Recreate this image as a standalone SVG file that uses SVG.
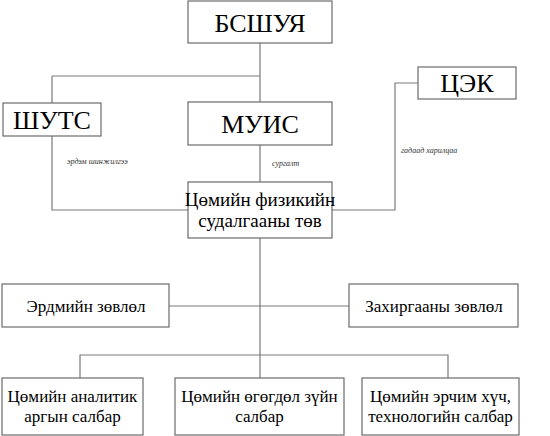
<svg xmlns="http://www.w3.org/2000/svg" width="550" height="436" viewBox="0 0 550 436">
<rect width="550" height="436" fill="#fff"/>
<g id="connectors" fill="none" stroke="#7a7a7a" stroke-width="1.2">
<path d="M260,43 V102 M52,76 H260 M52,76 V103"/>
<path d="M260,145 V182"/>
<path d="M52,136 V210 H188"/>
<path d="M418,83 H395 V210 H332"/>
<path d="M260,238 V378"/>
<path d="M169,306 H349"/>
<path d="M80,378 V355 H448 V378"/>
</g>
<g id="labels" fill="#333" font-size="8" font-style="italic" font-family="Times New Roman">
<text x="67" y="164">эрдэм шинжилгээ</text>
<text x="272" y="166">сургалт</text>
<text x="401" y="153">гадаад харилцаа</text>
</g>
<g id="nodes" text-anchor="middle" font-family="Times New Roman">
<g id="bsshuya"><rect fill="#fff" stroke="#6b6b6b" stroke-width="1.2" x="188" y="1" width="144" height="42"/><text font-size="26" x="260" y="32">БСШУЯ</text></g>
<g id="shuts"><rect fill="#fff" stroke="#6b6b6b" stroke-width="1.2" x="3" y="103" width="98" height="33"/><text font-size="26" x="52" y="129">ШУТС</text></g>
<g id="muis"><rect fill="#fff" stroke="#6b6b6b" stroke-width="1.2" x="188" y="102" width="144" height="43"/><text font-size="26" x="260" y="133">МУИС</text></g>
<g id="tsek"><rect fill="#fff" stroke="#6b6b6b" stroke-width="1.2" x="418" y="67" width="98" height="32"/><text font-size="26" x="467" y="92">ЦЭК</text></g>
<g id="center"><rect fill="#fff" stroke="#6b6b6b" stroke-width="1.2" x="188" y="182" width="144" height="56"/><text font-size="19" x="260" y="206">Цөмийн физикийн</text><text font-size="19" x="260" y="227">судалгааны төв</text></g>
<g id="erdem"><rect fill="#fff" stroke="#6b6b6b" stroke-width="1.2" x="2" y="284" width="167" height="43"/><text font-size="17" x="86" y="312">Эрдмийн зөвлөл</text></g>
<g id="zahirgaa"><rect fill="#fff" stroke="#6b6b6b" stroke-width="1.2" x="349" y="284" width="169" height="43"/><text font-size="17" x="434" y="312">Захиргааны зөвлөл</text></g>
<g id="analitik"><rect fill="#fff" stroke="#6b6b6b" stroke-width="1.2" x="2" y="378" width="141" height="57"/><text font-size="17" x="72.5" y="402">Цөмийн аналитик</text><text font-size="17" x="72.5" y="422">аргын салбар</text></g>
<g id="ogogdol"><rect fill="#fff" stroke="#6b6b6b" stroke-width="1.2" x="175" y="378" width="169" height="57"/><text font-size="17" x="259.5" y="402">Цөмийн өгөгдөл зүйн</text><text font-size="17" x="259.5" y="422">салбар</text></g>
<g id="erchim"><rect fill="#fff" stroke="#6b6b6b" stroke-width="1.2" x="362" y="378" width="157" height="57"/><text font-size="17" x="440.5" y="402">Цөмийн эрчим хүч,</text><text font-size="17" x="440.5" y="422">технологийн салбар</text></g>
</g>
</svg>
